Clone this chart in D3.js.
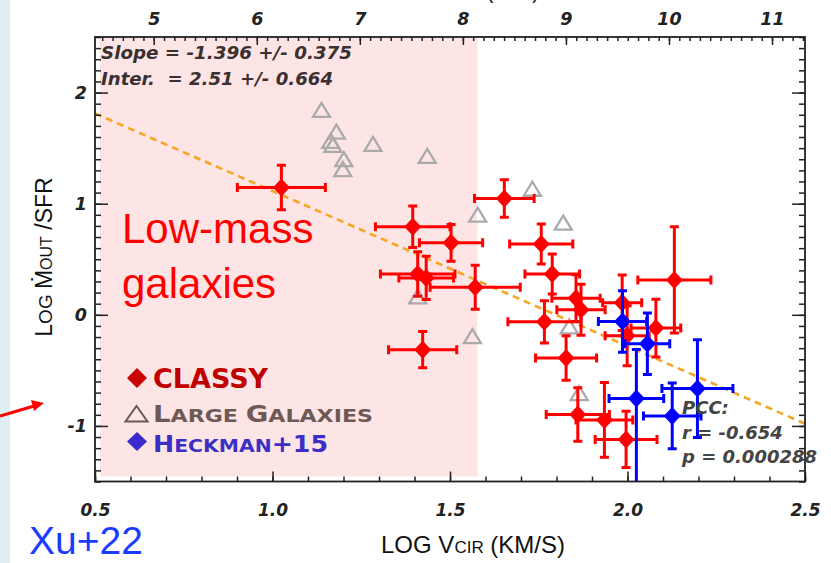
<!DOCTYPE html>
<html>
<head>
<meta charset="utf-8" />
<title>Outflow loading vs circular velocity</title>
<style>
  body { margin: 0; background: #fff; }
  svg { display: block; }
</style>
</head>
<body>
<svg id="svg" width="831" height="563"></svg>
<script src="https://d3js.org/d3.v7.min.js"></script>
<script>
// CLASSY points (log vcir, log Mout/SFR) with symmetric errors
var classyX    = [1.025, 1.653, 1.395, 1.503, 1.409, 1.433, 1.571, 1.423, 1.757, 1.788, 1.855, 1.869, 1.766, 1.827, 2.132, 1.985, 1.999, 2.080, 1.860, 1.935, 1.996];
var classyY    = [1.145, 1.047, 0.792, 0.648, 0.368, 0.332, 0.248, -0.314, 0.637, 0.368, 0.150, 0.045, -0.063, -0.388, 0.314, 0.108, -0.188, -0.119, -0.897, -0.946, -1.121];
var classyXerr = [0.124, 0.084, 0.105, 0.089, 0.105, 0.077, 0.127, 0.096, 0.089, 0.077, 0.068, 0.068, 0.103, 0.086, 0.103, 0.055, 0.062, 0.070, 0.089, 0.080, 0.087];
var classyYerr = [0.200, 0.168, 0.187, 0.165, 0.200, 0.195, 0.197, 0.163, 0.180, 0.180, 0.210, 0.230, 0.190, 0.200, 0.478, 0.250, 0.270, 0.260, 0.240, 0.336, 0.254];

// Heckman+15
var heckX      = [1.986, 2.056, 2.025, 2.126, 2.197];
var heckY      = [-0.060, -0.260, -0.753, -0.910, -0.664];
var heckXerr   = [0.068, 0.063, 0.077, 0.081, 0.100];
var heckYerrLo = [0.277, 0.276, 1.500, 0.296, 0.440];
var heckYerrHi = [0.277, 0.276, 0.440, 0.296, 0.440];

// large galaxies (open triangles)
var largeX = [1.138, 1.180, 1.164, 1.170, 1.283, 1.201, 1.198, 1.436, 1.578, 1.732, 1.819, 1.409, 1.563, 1.836, 1.864];
var largeY = [1.839, 1.644, 1.561, 1.525, 1.534, 1.396, 1.307, 1.426, 0.897, 1.130, 0.825, 0.161, -0.197, -0.108, -0.709];

// fit
var fitSlope = -1.396, fitInter = 2.51;
var lowMassEdge = 1.577;

var bottomTicks = [0.5, 1.0, 1.5, 2.0, 2.5];
var leftTicks = [-1, 0, 1, 2];
var topTicks = [5, 6, 7, 8, 9, 10, 11];

var svg = d3.select("#svg");

var x = d3.scaleLinear().domain([0.5, 2.5]).range([95, 805]);
var y = d3.scaleLinear().domain([-1.5, 2.5]).range([481.5, 37]);
var xTop = d3.scaleLinear().domain([4.43, 11.32]).range([95, 805]);

// slide background strip
svg.append("rect").attr("x", 0).attr("y", 0).attr("width", 10).attr("height", 563).attr("fill", "#dfeff3");

// low-mass shading
svg.append("rect")
  .attr("x", x(0.514)).attr("y", y(2.5))
  .attr("width", x(lowMassEdge) - x(0.514))
  .attr("height", y(-1.455) - y(2.5))
  .attr("fill", "#fde5e5");

svg.append("defs").append("clipPath").attr("id", "plotclip")
  .append("rect").attr("x", 95).attr("y", 37).attr("width", 710).attr("height", 444.5);

var plot = svg.append("g").attr("clip-path", "url(#plotclip)");

// triangles
var tri = "M0,-7.5L8.5,6.5L-8.5,6.5Z";
plot.selectAll(".tri").data(d3.range(largeX.length)).enter().append("path")
  .attr("d", tri)
  .attr("transform", i => "translate(" + x(largeX[i]) + "," + y(largeY[i]) + ")")
  .attr("fill", "none").attr("stroke", "#aaaaaa").attr("stroke-width", 2.3);

// fit line
plot.append("line")
  .attr("x1", x(0.5)).attr("y1", y(fitInter + fitSlope * 0.5))
  .attr("x2", x(2.5)).attr("y2", y(fitInter + fitSlope * 2.5))
  .attr("stroke", "#f5a623").attr("stroke-width", 2.6)
  .attr("stroke-dasharray", "7,5");

function errPoint(g, px, py, xl, xh, yl, yh, col) {
  var cap = 4.5;
  var gg = g.append("g").attr("stroke", col).attr("stroke-width", 3).attr("fill", col);
  gg.append("line").attr("x1", x(xl)).attr("x2", x(xh)).attr("y1", y(py)).attr("y2", y(py));
  gg.append("line").attr("x1", x(xl)).attr("x2", x(xl)).attr("y1", y(py) - cap).attr("y2", y(py) + cap);
  gg.append("line").attr("x1", x(xh)).attr("x2", x(xh)).attr("y1", y(py) - cap).attr("y2", y(py) + cap);
  gg.append("line").attr("x1", x(px)).attr("x2", x(px)).attr("y1", y(yl)).attr("y2", y(yh));
  gg.append("line").attr("x1", x(px) - cap).attr("x2", x(px) + cap).attr("y1", y(yl)).attr("y2", y(yl));
  gg.append("line").attr("x1", x(px) - cap).attr("x2", x(px) + cap).attr("y1", y(yh)).attr("y2", y(yh));
  gg.append("path").attr("stroke", "none")
    .attr("d", "M0,-9L8.5,0L0,9L-8.5,0Z")
    .attr("transform", "translate(" + x(px) + "," + y(py) + ")");
}

classyX.forEach(function(v, i) {
  errPoint(plot, v, classyY[i], v - classyXerr[i], v + classyXerr[i],
    classyY[i] - classyYerr[i], classyY[i] + classyYerr[i], "#ff0000");
});
heckX.forEach(function(v, i) {
  errPoint(plot, v, heckY[i], v - heckXerr[i], v + heckXerr[i],
    heckY[i] - heckYerrLo[i], heckY[i] + heckYerrHi[i], "#0000ff");
});

// axes
var tickFont = "'DejaVu Sans', sans-serif";
function styleAxis(g, size) {
  g.select(".domain").remove();
  g.selectAll("line").attr("stroke", "#222").attr("stroke-width", 1.5);
  g.selectAll("text").attr("font-family", tickFont).attr("font-weight", "bold")
    .attr("font-style", "italic").attr("font-size", size).attr("fill", "#222");
}
var minorX = d3.range(0.5, 2.51, 0.1).map(v => +v.toFixed(2));
var minorY = d3.range(-1.5, 2.51, 0.1).map(v => +v.toFixed(2));
var minorTop = d3.range(4.5, 11.31, 0.1).map(v => +v.toFixed(2));

svg.append("g").attr("transform", "translate(0,481.5)")
  .call(d3.axisBottom(x).tickValues(minorX).tickSize(-5).tickFormat(""))
  .call(g => styleAxis(g, 17));
svg.append("g").attr("transform", "translate(0,481.5)")
  .call(d3.axisBottom(x).tickValues(bottomTicks).tickSize(-10).tickPadding(22).tickFormat(d => d.toFixed(1)))
  .call(g => styleAxis(g, 17));

svg.append("g").attr("transform", "translate(0,37)")
  .call(d3.axisTop(xTop).tickValues(minorTop).tickSize(-4).tickFormat(""))
  .call(g => styleAxis(g, 17.5));
svg.append("g").attr("transform", "translate(0,37)")
  .call(d3.axisTop(xTop).tickValues(topTicks).tickSize(-8).tickPadding(12).tickFormat(d => String(d)))
  .call(g => styleAxis(g, 17.5));

svg.append("g").attr("transform", "translate(95,0)")
  .call(d3.axisLeft(y).tickValues(minorY).tickSize(-6).tickFormat(""))
  .call(g => styleAxis(g, 17.5));
svg.append("g").attr("transform", "translate(95,0)")
  .call(d3.axisLeft(y).tickValues(leftTicks).tickSize(-13).tickPadding(8).tickFormat(d => String(d)))
  .call(g => styleAxis(g, 17.5));

svg.append("g").attr("transform", "translate(805,0)")
  .call(d3.axisRight(y).tickValues(minorY).tickSize(-6).tickFormat(""))
  .call(g => styleAxis(g, 17));
svg.append("g").attr("transform", "translate(805,0)")
  .call(d3.axisRight(y).tickValues(leftTicks).tickSize(-13).tickFormat(""))
  .call(g => styleAxis(g, 17));

// frame
svg.append("rect").attr("x", 95).attr("y", 37).attr("width", 710).attr("height", 444.5)
  .attr("fill", "none").attr("stroke", "#222").attr("stroke-width", 1.8);

// annotations
function note(tx, ty, str, size, col, len) {
  var t = svg.append("text").attr("x", tx).attr("y", ty).text(str)
    .attr("font-family", tickFont).attr("font-weight", "bold").attr("font-style", "italic")
    .attr("font-size", size).attr("fill", col);
  if (len) t.attr("textLength", len).attr("lengthAdjust", "spacingAndGlyphs");
}
note(101, 59, "Slope = -1.396 +/- 0.375", 18.5, "#3a3030", 251);
note(101, 85, "Inter.\u00a0\u00a0= 2.51 +/- 0.664", 18.5, "#3a3030", 232);
note(682, 414, "PCC:", 18, "#444");
note(682, 439, "r = -0.654", 18, "#444");
note(682, 463, "p = 0.000288", 18, "#444");

// Low-mass label
var lm = svg.append("text").attr("font-family", "'Liberation Sans', sans-serif").attr("font-size", 42).attr("fill", "#ff0000");
lm.append("tspan").attr("x", 122).attr("y", 243).text("Low-mass");
lm.append("tspan").attr("x", 122).attr("y", 298).text("galaxies");

// legend
var legFont = "'DejaVu Sans', sans-serif";
svg.append("path").attr("d", "M0,-10L10,0L0,10L-10,0Z").attr("fill", "#cc0000")
  .attr("transform", "translate(137,378)");
svg.append("text").attr("x", 153).attr("y", 388).text("CLASSY")
  .attr("font-family", legFont).attr("font-weight", "bold").attr("font-size", 27).attr("fill", "#c00000");

svg.append("path").attr("d", "M0,-8L11,7.5L-11,7.5Z").attr("fill", "none").attr("stroke", "#6a5a55").attr("stroke-width", 2)
  .attr("transform", "translate(136.5,414)");
var lg = svg.append("text").attr("x", 153).attr("y", 421.5)
  .attr("font-family", legFont).attr("font-weight", "bold").attr("fill", "#6e5a55")
  .attr("textLength", 220).attr("lengthAdjust", "spacingAndGlyphs");
lg.append("tspan").attr("font-size", 23).text("L");
lg.append("tspan").attr("font-size", 18.5).text("ARGE ");
lg.append("tspan").attr("font-size", 23).text("G");
lg.append("tspan").attr("font-size", 18.5).text("ALAXIES");

svg.append("path").attr("d", "M0,-9.5L10,0L0,9.5L-10,0Z").attr("fill", "#3a2ad0")
  .attr("transform", "translate(137,441.5)");
var hk = svg.append("text").attr("x", 153).attr("y", 451.5)
  .attr("font-family", legFont).attr("font-weight", "bold").attr("fill", "#3b2fc6")
  .attr("textLength", 175).attr("lengthAdjust", "spacingAndGlyphs");
hk.append("tspan").attr("font-size", 23).text("H");
hk.append("tspan").attr("font-size", 18.5).text("ECKMAN");
hk.append("tspan").attr("font-size", 23).text("+15");

// axis titles
var labFont = "'Liberation Sans', Arial, sans-serif";
var xl = svg.append("text").attr("x", 473).attr("y", 553).attr("text-anchor", "middle")
  .attr("font-family", labFont).attr("font-size", 24).attr("fill", "#111");
xl.append("tspan").text("LOG V");
xl.append("tspan").attr("font-size", 17).text("CIR");
xl.append("tspan").text(" (KM/S)");

var yl = svg.append("text").attr("transform", "translate(52,257) rotate(-90)").attr("text-anchor", "middle")
  .attr("font-family", labFont).attr("font-size", 23).attr("fill", "#111");
yl.append("tspan").text("L");
yl.append("tspan").attr("font-size", 19).text("OG ");
yl.append("tspan").text("\u1E40");
yl.append("tspan").attr("font-size", 16).text("OUT");
yl.append("tspan").text(" /SFR");

// top axis title, cut off by the slide edge
svg.append("text").attr("x", 470).attr("y", -2).attr("text-anchor", "middle")
  .attr("font-family", labFont).attr("font-size", 22).attr("fill", "#222")
  .text("LOG M* (M\u2609)");

// slide extras
svg.append("text").attr("x", 29).attr("y", 554)
  .attr("font-family", "'Liberation Sans', sans-serif").attr("font-size", 39).attr("fill", "#1a3cff")
  .text("Xu+22");

svg.append("line").attr("x1", 0).attr("y1", 416).attr("x2", 34).attr("y2", 406)
  .attr("stroke", "#ff0000").attr("stroke-width", 3);
svg.append("path").attr("d", "M44,403L31,400L34,411Z").attr("fill", "#ff0000");
</script>
</body>
</html>
